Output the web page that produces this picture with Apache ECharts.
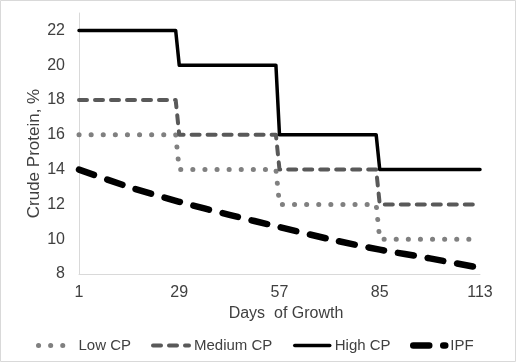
<!DOCTYPE html>
<html>
<head>
<meta charset="utf-8">
<script src="https://cdn.jsdelivr.net/npm/echarts@6/dist/echarts.min.js"></script>
<style>
html,body{margin:0;padding:0;background:#fff;}
#chart{width:516px;height:362px;}
</style>
</head>
<body>
<div id="chart"></div>
<script>
// Days of growth (category axis domain) and tick labels
const firstDay = 1;
const lastDay = 113;
const tickDays = ['1', '29', '57', '85', '113'];
const yTicks = [8, 10, 12, 14, 16, 18, 20, 22];

// Series values as [day, crude protein %]
const lowCP = [[1, 16], [28, 16], [29, 14], [56, 14], [57, 12], [84, 12], [85, 10], [113, 10]];
const mediumCP = [[1, 18], [28, 18], [29, 16], [56, 16], [57, 14], [84, 14], [85, 12], [113, 12]];
const highCP = [[1, 22], [28, 22], [29, 20], [56, 20], [57, 16], [84, 16], [85, 14], [113, 14]];
const ipf = [[1, 14.0], [15, 13.0], [29, 12.15], [43, 11.4], [57, 10.7], [71, 10.0], [85, 9.4], [99, 8.9], [113, 8.35]];

const seriesNames = ['Low CP', 'Medium CP', 'High CP', 'IPF'];

const days = [];
for (let d = firstDay; d <= lastDay; d++) days.push(String(d));
const toCat = arr => arr.map(p => [String(p[0]), p[1]]);

const font = 'Liberation Sans, Arial, sans-serif';
const textColor = '#404040';

const styles = [
  {color: '#808080', width: 5, type: [0.1, 12]},
  {color: '#595959', width: 4, type: [8, 8]},
  {color: '#000000', width: 3.5, type: 'solid'},
  {color: '#000000', width: 6.5, type: [16, 14]}
];

const chart = echarts.init(document.getElementById('chart'), null, {renderer: 'canvas'});

function legendAt(i, left, itemWidth, textPad) {
  return {
    data: [seriesNames[i]],
    left: left,
    top: 338,
    itemWidth: itemWidth,
    itemHeight: 14,
    padding: 0,
    itemStyle: {opacity: 0},
    lineStyle: {width: styles[i].width, type: styles[i].type, color: styles[i].color, cap: 'round'},
    textStyle: {fontFamily: font, fontSize: 15, color: textColor, padding: [0, 0, 0, textPad]}
  };
}

function lineSeries(i, data, extra) {
  return Object.assign({
    name: seriesNames[i], type: 'line', data: toCat(data), symbol: 'none',
    itemStyle: {color: styles[i].color},
    lineStyle: {color: styles[i].color, width: styles[i].width, type: styles[i].type, cap: 'round', join: 'round'}
  }, extra || {});
}

chart.setOption({
  animation: false,
  backgroundColor: '#fff',
  graphic: [{
    type: 'rect',
    shape: {x: 0.5, y: 0.5, width: 515, height: 361},
    style: {fill: null, stroke: '#d9d9d9', lineWidth: 1},
    silent: true
  }],
  grid: {left: 79, right: 36, top: 13, bottom: 88, containLabel: false},
  legend: [
    legendAt(0, 36, 28, 7),
    legendAt(1, 151, 36, 0),
    legendAt(2, 293, 35, 0),
    legendAt(3, 410, 32, 0)
  ],
  xAxis: {
    type: 'category',
    data: days,
    boundaryGap: false,
    name: 'Days  of Growth',
    nameLocation: 'middle',
    nameGap: 32,
    nameMoveOverlap: false,
    nameTextStyle: {fontFamily: font, fontSize: 16, color: textColor, padding: [0, 0, 0, 13]},
    axisLine: {show: true, lineStyle: {color: '#d9d9d9', width: 1}},
    axisTick: {show: false},
    splitLine: {show: false},
    axisLabel: {
      interval: function (idx, val) { return tickDays.indexOf(val) >= 0; },
      margin: 11,
      fontFamily: font, fontSize: 16, color: textColor
    }
  },
  yAxis: {
    type: 'value',
    min: 8,
    max: 23,
    interval: 2,
    name: 'Crude Protein, %',
    nameLocation: 'middle',
    nameGap: 36,
    nameMoveOverlap: false,
    nameTextStyle: {fontFamily: font, fontSize: 17, color: textColor, padding: [0, 20, 0, 0]},
    axisLine: {show: true, lineStyle: {color: '#d9d9d9', width: 1}},
    axisTick: {show: false},
    splitLine: {show: false},
    axisLabel: {
      showMaxLabel: false,
      margin: 14,
      fontFamily: font, fontSize: 16, color: textColor,
      formatter: function (v) { return yTicks.indexOf(v) >= 0 ? String(v) : ''; }
    }
  },
  series: [
    lineSeries(0, lowCP),
    lineSeries(1, mediumCP),
    lineSeries(2, highCP),
    lineSeries(3, ipf, {smooth: 0.3})
  ]
});
</script>
</body>
</html>
